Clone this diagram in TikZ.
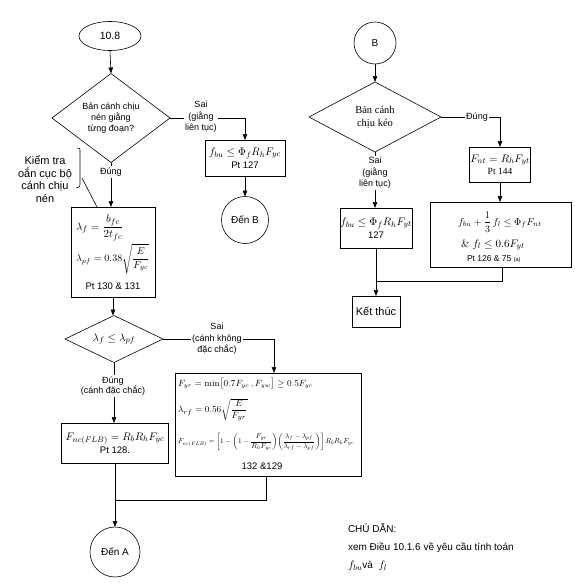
\documentclass[tikz,border=0pt]{standalone}
\usepackage[no-math]{fontspec}
\setmainfont{Liberation Sans}
\newfontfamily\tms{Liberation Serif}
\usepackage{amsmath}
\usetikzlibrary{shapes.geometric,arrows.meta,calc}
\newcommand\MZ[1]{{\fontsize{11}{13}\selectfont$#1$}}
\begin{document}
\begin{tikzpicture}[x=1pt,y=-1pt,
  every node/.style={inner sep=0pt, outer sep=0pt},
  line/.style={draw, line width=0.6pt},
  arr/.style={line, -{Triangle[length=6pt,width=4.5pt]}},
  box/.style={draw, line width=0.6pt, rectangle, align=center, font=\fontsize{9.5}{13}\selectfont},
  dia/.style={draw, line width=0.6pt, diamond, inner sep=0pt, align=center},
  circ/.style={draw, line width=0.6pt, circle, align=center, font=\fontsize{10}{12}\selectfont},
  lbl/.style={fill=white, align=center, inner sep=1.5pt, font=\fontsize{9}{11.5}\selectfont},
  mth/.style={anchor=west, font=\fontsize{11}{13}\selectfont}
]
\useasboundingbox (0,0) rectangle (574,586);

% ---------- left column ----------
\node[draw, line width=0.6pt, ellipse, minimum width=62, minimum height=29, font=\fontsize{10.5}{12}\selectfont] (n108) at (110,36) {10.8};
\node[dia, minimum width=118, minimum height=89, shape aspect=1.33, font=\fontsize{9}{11}\selectfont] (d1) at (111,118) {Bản cánh chịu\\nén giằng\\từng đoạn?};
\node[box, minimum width=80, minimum height=36] (b1) at (245,158) {\MZ{f_{bu}\le\Phi_f R_h F_{yc}}\\Pt 127};
\node[circ, minimum size=47] (cB1) at (245,220) {Đến B};

\node[align=center, font=\fontsize{11}{12.6}\selectfont] (ann) at (45,179) {Kiểm tra\\oắn cục bộ\\cánh chịu\\nén};
\coordinate (annA) at (82,178);
\coordinate (annB) at (97,207);

\node[box, minimum width=84, minimum height=90] (b2) at (113,252) {};
\node[mth] (b2a) at (76,228) {$\lambda_f=\dfrac{b_{fc}}{2t_{fc}}$};
\node[mth, font=\fontsize{10}{12}\selectfont] (b2b) at (76,259) {$\lambda_{pf}=0.38\sqrt{\dfrac{E}{F_{yc}}}$};
\node[font=\fontsize{9.5}{11}\selectfont] (b2c) at (113,286) {Pt 130 \& 131};

\node[dia, minimum width=98, minimum height=47, shape aspect=2, font=\fontsize{11}{12}\selectfont] (d2) at (114,339) {$\lambda_f\le\lambda_{pf}$};

\node[box, minimum width=107, minimum height=40] (b3) at (115,443) {\MZ{F_{nc(FLB)}=R_b R_h F_{yc}}\\Pt 128.};
\node[circ, minimum size=50] (cA) at (115,552) {Đến A};

\node[box, minimum width=186, minimum height=103] (b4) at (268,424.5) {};
\node[mth, font=\fontsize{9}{10}\selectfont] (b4a) at (178,384) {$F_{yr}=\min\bigl[0.7F_{yc}\,,F_{yw}\bigr]\ge 0.5F_{yc}$};
\node[mth, font=\fontsize{9.5}{10}\selectfont] (b4b) at (178,410) {$\lambda_{rf}=0.56\sqrt{\dfrac{E}{F_{yr}}}$};
\node[mth] (b4c) at (178,442) {\resizebox{176pt}{!}{\fontsize{10}{12}\selectfont$\displaystyle F_{nc(FLB)}=\left[1-\left(1-\frac{F_{yr}}{R_hF_{yc}}\right)\!\left(\frac{\lambda_f-\lambda_{pf}}{\lambda_{rf}-\lambda_{pf}}\right)\right]R_bR_hF_{yc}$}};
\node[font=\fontsize{9.5}{11}\selectfont] (b4d) at (262,466) {132 \&129};

\coordinate (jA) at (115,500);

% ---------- right column ----------
\node[circ, minimum size=42] (cB) at (375,43) {B};
\node[dia, minimum width=132, minimum height=70, shape aspect=1.9, font=\tms\fontsize{10.5}{13}\selectfont] (d3) at (375,117) {Bản cánh\\chịu kéo};
\node[box, minimum width=61, minimum height=35, font=\tms\fontsize{9.5}{12}\selectfont] (b5) at (500,164.5) {\MZ{F_{nt}=R_hF_{yt}}\\Pt 144};
\node[box, minimum width=141, minimum height=65] (b6) at (500.5,234.5) {};
\node[mth, font=\fontsize{10}{12}\selectfont] (b6a) at (458,222) {$f_{bu}+\dfrac{1}{3}\,f_l\le\Phi_f F_{nt}$};
\node[mth] (b6b) at (461,245) {$\&\ f_l\le 0.6F_{yt}$};
\node[anchor=west, font=\fontsize{8.5}{10}\selectfont] (b6c) at (467,259) {Pt 126 \& 75 {\fontsize{5.5}{6}\selectfont (a)}};
\node[box, minimum width=72, minimum height=40] (b7) at (376,228) {\MZ{f_{bu}\le\Phi_f R_h F_{yt}}\\127};
\node[box, minimum width=48, minimum height=31, font=\fontsize{11}{12}\selectfont] (bEnd) at (376,311.5) {Kết thúc};
\coordinate (jE) at (376,281);

% ---------- note ----------
\node[anchor=north west, align=left, font=\fontsize{10}{18}\selectfont] (note) at (348,524) {CHÚ DẪN:\\xem Điều 10.1.6 về yêu cầu tính toán\\\MZ{f_{bu}}và \ \MZ{f_l}};

% ---------- connectors ----------
\draw[arr] (n108.south) -- (d1.north);
\draw[arr] (d1.east) -| (b1.north);
\draw[arr] (b1.south) -- (cB1.north);
\draw[arr] (d1.south) -- (b2.north -| d1.south);
\draw[line] (77,148) .. controls (80,148) .. (80,152) -- (80,182) .. controls (80,187) .. (76,188);
\draw[line] (annA) -- (annB);
\draw[arr] (b2.south) -- (b2.south |- d2.north);
\draw[arr] (d2.east) -| (b4.north -| 274,0);
\draw[arr] (d2.south) -- (d2.south |- b3.north);
\draw[arr] (b3.south) -- (cA.north);
\draw[line] ([xshift=-2]b4.south) |- (jA);

\draw[arr] (cB.south) -- (d3.north);
\draw[arr] (d3.east) -| (b5.north);
\draw[arr] (b5.south) -- (b6.north -| b5.south);
\draw[arr] (d3.south) -- (b7.north -| d3.south);
\draw[arr] (b7.south) -- (bEnd.north);
\draw[line] ([xshift=2]b6.south) |- (jE);

% ---------- labels ----------
\node[lbl] (l1) at (201,117) {Sai\\(giằng\\liên tục)};
\node[lbl] (l2) at (111,172) {Đúng};
\node[lbl] (l3) at (217,339) {Sai\\(cánh không\\đặc chắc)};
\node[lbl, font=\fontsize{9}{9.5}\selectfont] (l4) at (113,386) {Đúng\\(cánh đặc chắc)};
\node[lbl] (l5) at (477,117) {Đúng};
\node[lbl] (l6) at (375,173) {Sai\\(giằng\\liên tục)};
\end{tikzpicture}
\end{document}
